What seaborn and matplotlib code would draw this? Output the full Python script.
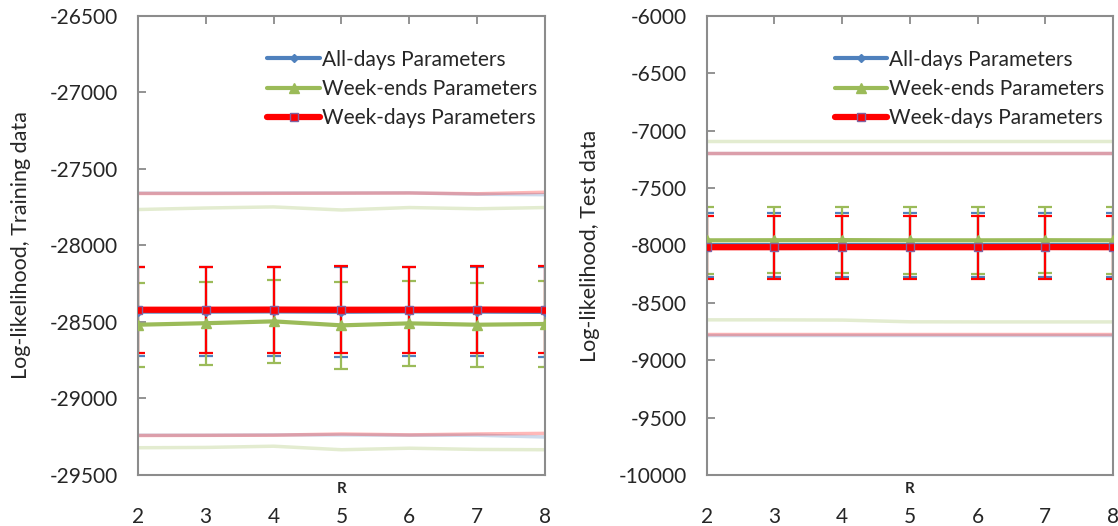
import matplotlib
matplotlib.use("Agg")
import matplotlib.pyplot as plt
import seaborn as sns
import pandas as pd

# ---- data ----
R = [2, 3, 4, 5, 6, 7, 8]

# Training data: mean log-likelihood and error half-widths
train_all_mean = [-28432, -28432, -28431, -28433, -28431, -28432, -28434]
train_all_err = [292, 290, 291, 293, 291, 292, 294]
train_wend_mean = [-28518, -28508, -28496, -28522, -28509, -28518, -28513]
train_wend_err = [275, 272, 270, 283, 278, 276, 278]
train_wday_mean = [-28420, -28420, -28419, -28420, -28420, -28419, -28420]
train_wday_err = [282, 280, 281, 283, 281, 282, 284]
# Training data: upper / lower envelopes
train_all_hi = [-27658, -27658, -27657, -27657, -27656, -27665, -27668]
train_wend_hi = [-27765, -27755, -27748, -27768, -27752, -27760, -27752]
train_wday_hi = [-27660, -27660, -27659, -27658, -27657, -27662, -27652]
train_all_lo = [-29240, -29240, -29238, -29238, -29240, -29240, -29252]
train_wend_lo = [-29322, -29320, -29312, -29335, -29325, -29333, -29335]
train_wday_lo = [-29242, -29241, -29240, -29232, -29238, -29232, -29228]

# Test data
test_all_mean = [-7996, -7996, -7995, -7996, -7996, -7995, -7996]
test_all_err = [278, 278, 277, 278, 278, 277, 278]
test_wend_mean = [-7955, -7954, -7953, -7955, -7955, -7954, -7955]
test_wend_err = [290, 290, 289, 290, 290, 289, 290]
test_wday_mean = [-8015, -8015, -8014, -8015, -8015, -8014, -8015]
test_wday_err = [276, 276, 275, 276, 276, 275, 276]
test_all_hi = [-7197, -7197, -7197, -7197, -7197, -7197, -7197]
test_wend_hi = [-7087, -7087, -7087, -7087, -7087, -7087, -7087]
test_wday_hi = [-7195, -7195, -7195, -7195, -7195, -7195, -7195]
test_all_lo = [-8783, -8783, -8783, -8783, -8783, -8783, -8783]
test_wend_lo = [-8648, -8648, -8650, -8665, -8666, -8666, -8666]
test_wday_lo = [-8772, -8772, -8772, -8772, -8772, -8772, -8772]

labels = ["All-days Parameters", "Week-ends Parameters", "Week-days Parameters"]
colors = ["#4F81BD", "#9BBB59", "#FF0000"]
markers = ["D", "^", "s"]
msizes = [4, 7, 6]
lwidths = [3, 3, 4.5]

sns.set_style("white")
plt.rcParams["font.family"] = ["Lato", "DejaVu Sans"]
plt.rcParams["axes.unicode_minus"] = False

fig = plt.figure(figsize=(11.18, 5.26), dpi=100)
ax1 = fig.add_axes([0.1232, 0.097, 0.3645, 0.8726])
ax2 = fig.add_axes([0.6321, 0.097, 0.3635, 0.8726])

panels = [
    (ax1,
     [train_all_mean, train_wend_mean, train_wday_mean],
     [train_all_err, train_wend_err, train_wday_err],
     [train_all_hi, train_wend_hi, train_wday_hi],
     [train_all_lo, train_wend_lo, train_wday_lo],
     (-29500, -26500), "Log-likelihood, Training data"),
    (ax2,
     [test_all_mean, test_wend_mean, test_wday_mean],
     [test_all_err, test_wend_err, test_wday_err],
     [test_all_hi, test_wend_hi, test_wday_hi],
     [test_all_lo, test_wend_lo, test_wday_lo],
     (-10000, -6000), "Log-likelihood, Test data"),
]

for ax, means, errs, his, los, ylim, ylabel in panels:
    # faint envelope lines
    for hi, lo, c in zip(his, los, colors):
        for band in (hi, lo):
            env = pd.DataFrame({"R": R, "v": band})
            sns.lineplot(data=env, x="R", y="v", ax=ax, color=c, lw=2.5,
                         alpha=0.28, legend=False, zorder=1)
    # main series with error bars
    for m, e, c, mk, ms, lw, lab in zip(means, errs, colors, markers,
                                          msizes, lwidths, labels):
        ax.errorbar(R, m, yerr=e, fmt="none", ecolor=c, elinewidth=1.6,
                    capsize=5, capthick=1.6, zorder=2)
        df = pd.DataFrame({"R": R, "v": m})
        mec = "#8064A2" if mk == "s" else c
        sns.lineplot(data=df, x="R", y="v", ax=ax, color=c, lw=lw,
                     marker=mk, markersize=ms, markeredgecolor=mec,
                     markeredgewidth=1, label=lab, zorder=3)

    ax.set_xlim(2, 8)
    ax.set_ylim(*ylim)
    ax.set_yticks(range(ylim[0], ylim[1] + 1, 500))
    ax.set_xticks(R)
    ax.tick_params(axis="y", direction="in", length=6, width=1.2,
                   color="#808080", labelsize=15, pad=14, left=True)
    ax.tick_params(axis="x", direction="in", length=6, width=1.2,
                   color="#808080", labelsize=15, pad=23,
                   bottom=False, top=True)
    for sp in ax.spines.values():
        sp.set_color("#8C8C8C")
        sp.set_linewidth(1.5)
    ax.set_ylabel(ylabel, fontsize=15.5, labelpad=14)
    ax.set_xlabel("R", fontsize=11, fontweight="bold")
    ax.xaxis.set_label_coords(0.5, -0.016)
    ax.xaxis.label.set_va("top")
    ax.legend(loc="upper right", bbox_to_anchor=(1.0, 0.945), frameon=False,
              fontsize=15, handlelength=2.5, handletextpad=0.1,
              labelspacing=0.45, borderaxespad=0)

fig.savefig("out.png", dpi=100)
